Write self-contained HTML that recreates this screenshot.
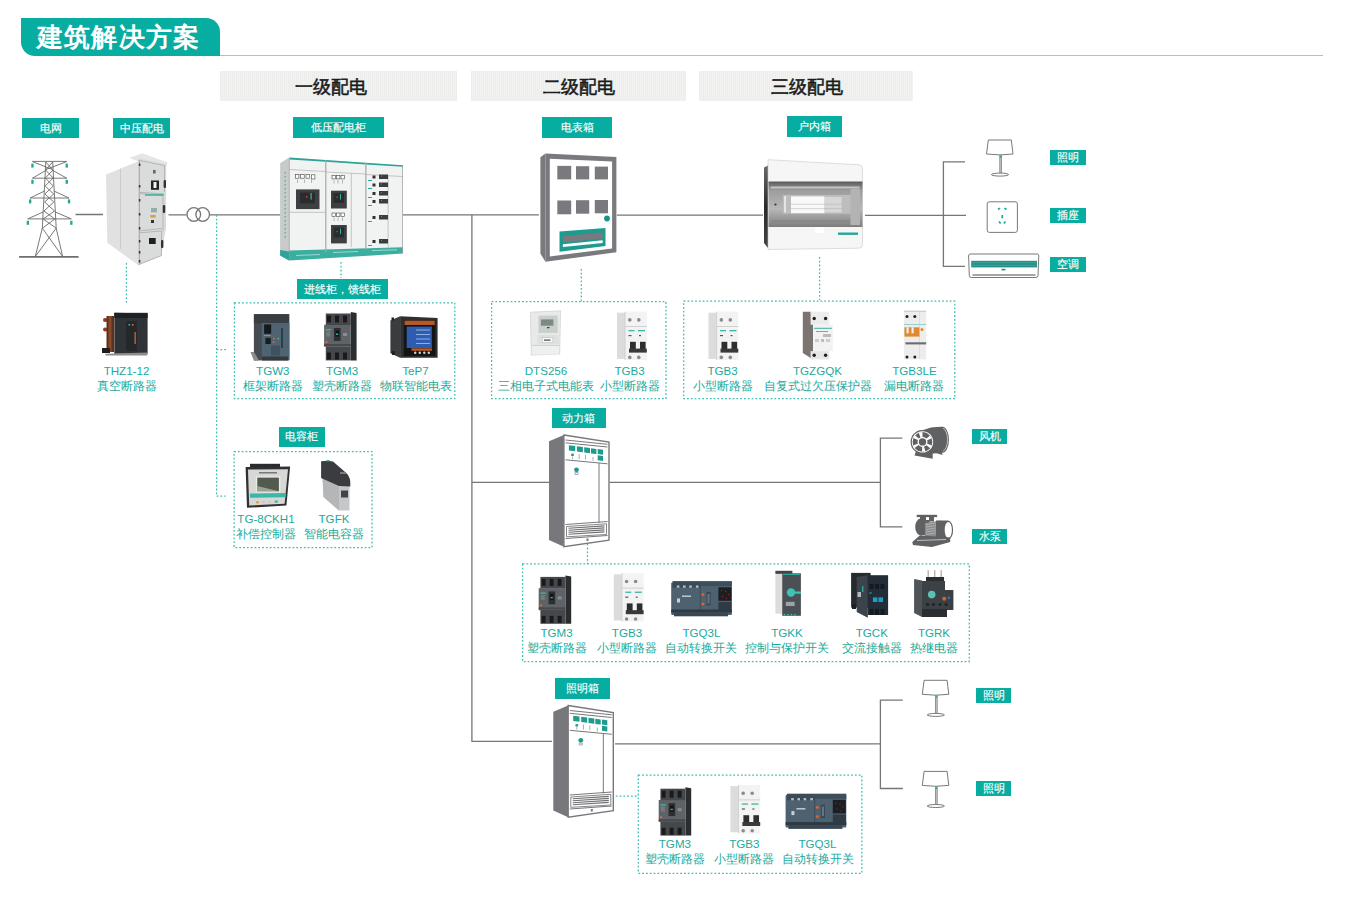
<!DOCTYPE html>
<html><head><meta charset="utf-8">
<style>
html,body{margin:0;padding:0;background:#fff;width:1350px;height:905px;overflow:hidden;position:relative;font-family:"Liberation Sans",sans-serif}
.a{position:absolute}
.tab{position:absolute;left:21px;top:18px;width:199px;height:37.5px;background:#07ada1;border-radius:0 14px 0 14px;color:#fff;font-weight:bold;font-size:25.5px;line-height:39px;box-sizing:border-box;padding-left:16px;letter-spacing:1.2px}
.bar{position:absolute;top:71px;height:30.4px;background:repeating-linear-gradient(90deg,#ededec 0 1px,#f2f2f0 1px 2px);color:#1b1b1b;font-size:17.5px;line-height:32px;font-weight:normal;-webkit-text-stroke:0.55px #1b1b1b}
.bar span{position:absolute;top:0;white-space:nowrap}
.lb{position:absolute;background:#07ada1;color:#fff;font-size:11px;text-align:center;white-space:nowrap;font-weight:normal;-webkit-text-stroke:0.15px #fff}
.pt{position:absolute;color:#1aaa9c;font-size:11.6px;line-height:15px;text-align:center;white-space:nowrap;width:120px}
svg{position:absolute;left:0;top:0}
</style></head><body>
<div class="tab">建筑解决方案</div>
<div class="a" style="left:220px;top:54.5px;width:1103px;height:1.3px;background:#86d5cd"></div>

<div class="bar" style="left:220px;width:237px"><span style="left:75px">一级配电</span></div>
<div class="bar" style="left:471px;width:214.5px"><span style="left:72px">二级配电</span></div>
<div class="bar" style="left:699px;width:214px"><span style="left:71.7px">三级配电</span></div>

<svg width="1350" height="905" viewBox="0 0 1350 905">
<g fill="none" stroke="#767676" stroke-width="1.3">
<path d="M75.5 214.5H103M168.5 214.8H186.7M209.8 214.8H280.5M402.9 214.9H538.9M616.8 215.1H763M865 215.3H966"/>
<circle cx="193.8" cy="214.5" r="6.8"/><circle cx="202.7" cy="214.5" r="6.8"/>
<path d="M965 161.8H943.4V266.4H965"/>
<path d="M471.9 214.7V741.4H552M472 482.4H549.2M609.7 482.4H880.4M902.3 438.2H880.4V526.8H902.3M615 743.9H880.4M902.8 700.2H880.4V788.5H902.8"/>
</g>
<g fill="none" stroke="#3dbdb1" stroke-width="1.25" stroke-dasharray="1.8 2">
<path d="M126.4 263V302.5M216.6 215V496M216.6 349.7H226M216.6 496H225.6M341 262V278M581.3 269V301.5M819.6 257V300M587.5 540V564M615.8 796H638.3"/>
<rect x="234.4" y="302.8" width="220.4" height="95.9"/>
<rect x="234.1" y="451.5" width="137.9" height="96"/>
<rect x="491.6" y="301.7" width="174.4" height="97"/>
<rect x="683.7" y="301.2" width="271.1" height="97.5"/>
<rect x="522.6" y="563.9" width="446.7" height="97.6"/>
<rect x="638.3" y="775.2" width="223.6" height="98.1"/>
</g>
<!-- tower -->
<g fill="none" stroke="#6a6a6a" stroke-width="0.9">
<path d="M19.1 256.8H78.6" stroke-width="1.7" stroke="#6e6e6e"/>
<path d="M45.8 162L42.3 228.1L35.3 256.5M52.7 162L56.2 228.1L62.6 256.5M42.3 228.1L62.6 256.5M56.2 228.1L35.3 256.5"/>
<path d="M45.8 162L52.9 170L45.4 178L53.3 186L44.9 194L53.8 202L44.0 211L54.8 219L42.7 228M52.7 162L45.6 170L53.2 178L45.2 186L53.7 194L44.6 202L54.5 211L43.2 219L56 228"/>
<path d="M32.4 161.4H66.7M32.4 161.6L52.5 169.5M66.7 161.6L46 169.5"/>
<path d="M32.4 178.2H66.7M45.6 170.5L32.4 178.2M53 170.5L66.7 178.2"/>
<path d="M30.1 198H69M44.6 191L30.1 198M53.9 191L69 198"/>
<path d="M27.8 218.9H71.3M43.4 211.9L27.8 218.9M55 211.9L71.3 218.9"/>
</g>
<g fill="#1fa89a">
<rect x="31.3" y="163.6" width="2.3" height="4"/><rect x="65.6" y="163.6" width="2.3" height="4"/>
<rect x="31.3" y="179.8" width="2.3" height="4"/><rect x="65.6" y="179.8" width="2.3" height="4"/>
<rect x="29" y="199.4" width="2.3" height="4"/><rect x="67.9" y="199.4" width="2.3" height="4"/>
<rect x="26.7" y="220.8" width="2.3" height="4"/><rect x="70.2" y="220.8" width="2.3" height="4"/>
</g>
<!-- meter box -->
<g>
<polygon points="540.4,157.3 545.4,153.5 545.4,261.7 540.4,253.6" fill="#7a797e"/>
<polygon points="545.4,153.5 616.4,156.9 616.4,252.3 545.4,261.7" fill="#7a797e"/>
<polygon points="549.8,158.8 612.1,161.6 612.1,248.5 549.8,256.4" fill="#fff"/>
<g fill="#7a797e">
<rect x="557.3" y="165.9" width="13.9" height="13.5"/><rect x="576" y="166.2" width="13.2" height="13.2"/><rect x="594.8" y="166.6" width="13.2" height="12.8"/>
<rect x="557.3" y="200.5" width="13.9" height="13.8"/><rect x="576" y="200.2" width="13.2" height="13.5"/><rect x="594.8" y="200" width="13.2" height="13.3"/>
</g>
<circle cx="607" cy="218.5" r="2.9" fill="#16958a"/>
<polygon points="559.5,231.6 605.5,227.9 605.5,246.1 559.5,251.7" fill="#1e9a8e"/>
<polygon points="562.9,236.2 602.7,232.4 602.7,238.6 562.9,242.3" fill="#7a797e"/>
<polygon points="562.9,244.2 602.7,240.3 602.7,243 562.9,247" fill="#fff"/>
</g>
<!-- power box cabinet -->
<g id="cab">
<polygon points="549,441.3 563.9,435 563.9,546.7 549,540.1" fill="#78777c"/>
<polygon points="563.9,435 609,442 609,540.1 563.9,546.7" fill="#fff" stroke="#78777c" stroke-width="1.4"/>
<path d="M565.5 440L607.5 444.3M565.5 442.8L607.5 447M565.5 459.8L607.5 463.8M599 463V523M565.5 524.5L607.5 521.5M565.5 538.5L607.5 535.5" stroke="#78777c" stroke-width="1" fill="none"/>
<polygon points="566.5,526.5 606.5,523.8 606.5,534.5 566.5,536.8" fill="none" stroke="#78777c" stroke-width="0.9"/>
<g fill="#1e9a8e">
<polygon points="568.9,445.3 575.2,446.1 575.2,451.3 568.9,450.6"/>
<polygon points="576.9,446.3 582.9,447.1 582.9,452.2 576.9,451.5"/>
<polygon points="584.2,447.3 590,448.1 590,453.2 584.2,452.5"/>
<polygon points="591,448.2 596.4,448.9 596.4,454 591,453.4"/>
<polygon points="597.7,449 603,449.7 603,454.8 597.7,454.1"/>
<polygon points="597.7,455.2 603,455.9 603,461 597.7,460.3"/>
<rect x="571.2" y="453.6" width="2.6" height="2.4"/>
<circle cx="576.5" cy="469.8" r="2.4"/>
</g>
<g fill="none" stroke="#8a898e" stroke-width="0.7">
<path d="M572.5 456.5V459M579.2 454V459M585.5 455V459.5M593 457V461M575 472.5h3v2h-3z"/>
<path d="M568.5 528.3L604.5 525.9M568.5 530.3L604.5 527.9M568.5 532.3L604.5 529.9M568.5 534.3L604.5 531.9" stroke-width="1.1" stroke="#6f6e73"/>
</g>
<rect x="586.5" y="538.5" width="2" height="2.5" fill="#78777c"/>
</g>
<use href="#cab" transform="translate(4.3 270.5)"/>
<!-- lamps -->
<g id="lamp" fill="none" stroke="#6a6a6a" stroke-width="0.9">
<path d="M988.3 140H1011.3L1013 154Q1000 155.8 986.5 154Z" fill="#fff"/>
<path d="M999.9 155V173.3M1001.3 155V173.3"/>
<ellipse cx="1000" cy="174.6" rx="8.6" ry="1.5" fill="#fff"/>
<circle cx="1000.6" cy="156.8" r="0.9" fill="#1aa99b" stroke="none"/>
</g>
<use href="#lamp" transform="translate(-64.2 540.3)"/>
<use href="#lamp" transform="translate(-64.2 631.4)"/>
<!-- socket -->
<rect x="987.2" y="201.8" width="30.2" height="30.6" rx="2.2" fill="#fff" stroke="#6a6a6a" stroke-width="0.9"/>
<g stroke="#1aa99b" stroke-width="1.7" fill="none">
<path d="M998 209.5l2 -1.4M1006.5 209.5l-2 -1.4M1002.3 215v3.2M999 221.5l1.6 2M1005.5 221.5l-1.6 2"/>
</g>
<!-- AC -->
<path d="M970.2 254H1037.2Q1038.8 254 1038.8 256L1038 275.5Q1037.8 277.5 1036 277.5H971.3Q969.5 277.5 969.3 275.5L968.6 256Q968.6 254 970.2 254Z" fill="#fff" stroke="#6a6a6a" stroke-width="0.9"/>
<rect x="971.2" y="260.8" width="65.8" height="6.6" fill="#238f86"/>
<path d="M971.2 262.7H1037M971.2 265.3H1037" stroke="#5db5ad" stroke-width="0.5"/>
<rect x="1001.5" y="268.8" width="4" height="1.6" fill="#238f86"/>
<path d="M972.5 275H1035.5" stroke="#888" stroke-width="1.3"/>

<!-- MV cabinet -->
<g>
<polygon points="106,174.5 138.4,161.3 138.4,265.3 107.3,242.8" fill="#e0e1e0"/>
<path d="M120.5 168.6V249" stroke="#c4c6c5" stroke-width="0.8"/>
<polygon points="129,158 142.4,153.3 167.6,162.6 166.3,166.6 138.4,161.3" fill="#e4e5e4"/>
<polygon points="138.4,158 166.3,164.6 166,228 161,256 138.4,265.3" fill="#dadcdb"/>
<path d="M140 160.5L164.5 165.5V192M140 192.4L164.5 194M140 193.7L163 195V230.8M140 230.8L162 228.5M140 232.8L161.5 231V255.5M140 264L161.5 255.5" stroke="#a9abaa" stroke-width="0.8" fill="none"/>
<path d="M139.2 160V265" stroke="#8d8f8e" stroke-width="0.8"/>
<rect x="151" y="180.5" width="8" height="9.3" fill="#222"/><rect x="153.5" y="182" width="3" height="6" fill="#f3f3f3"/>
<rect x="153" y="170" width="2.6" height="3.5" fill="#666"/>
<rect x="149" y="238" width="6.7" height="6" fill="#1f1f1f"/>
<rect x="163.6" y="180" width="2.4" height="8" rx="1" fill="#333"/>
<rect x="162.8" y="205" width="2.4" height="8" rx="1" fill="#333"/>
<rect x="161" y="240" width="2.4" height="8" rx="1" fill="#333"/>
<g fill="#2e3a44"><rect x="138.8" y="163.5" width="1.6" height="2.5"/><rect x="138.8" y="185" width="1.6" height="2.5"/><rect x="138.8" y="199" width="1.6" height="2.5"/><rect x="138.8" y="213" width="1.6" height="2.5"/><rect x="138.8" y="227" width="1.6" height="2.5"/><rect x="138.8" y="240" width="1.6" height="2.5"/><rect x="138.8" y="251" width="1.6" height="2.5"/><rect x="138.8" y="260" width="1.6" height="2.5"/></g>
<rect x="145" y="194.3" width="18.6" height="1.4" fill="#2bb0a2"/>
<rect x="151" y="208" width="6" height="4.3" fill="#8fb0aa"/>
<rect x="150.4" y="215" width="5.2" height="2.6" fill="#e39a3a"/>
<rect x="151" y="220" width="3" height="3" fill="#333"/>
</g>
<!-- LV cabinet -->
<g>
<polygon points="280.1,163.3 289,157.6 289,260.6 280.1,255.5" fill="#c9cbca"/>
<polygon points="280.1,250 289,251.5 289,260.6 280.1,255.5" fill="#2aa597"/>
<path d="M285.2 172V240" stroke="#2aa597" stroke-width="1" stroke-dasharray="1.5 2.5"/>
<polygon points="289,157.6 402.8,165.3 402.8,253.6 289,260.6" fill="#f1f2f2"/>
<polygon points="289,250.4 402.8,247.2 402.8,253.6 289,260.6" fill="#3aae9f"/>
<path d="M296 255.5L320 254.5M333 252.5L358 251.5M372 250.5L397 249.8" stroke="#b9e2dc" stroke-width="0.8"/>
<path d="M289.5 157.6L325.8 160.1V161.8L289.5 159.4Z M326 160.1L365.9 162.8V164.4L326 161.8Z M366 162.8L402.8 165.3V166.8L366 164.4Z" fill="#2aa597"/>
<path d="M325.8 160V252.2M365.9 162.8V249.5M351.3 173V247M388.1 175V247M289.5 212.3H325.5M289.5 169.5L325.5 171.5M326 172L365.9 174M366 174.5L402.5 176.5" stroke="#b8bab9" stroke-width="0.8" fill="none"/>
<path d="M289.3 158V260M325.8 160V252M365.9 163V249.5M402.5 165.5V253.5" stroke="#999" stroke-width="0.7" fill="none"/>
<rect x="296" y="189.4" width="23.5" height="19.7" fill="#3d3f42"/><rect x="300" y="192.5" width="15" height="11" fill="#2b2c2e"/>
<rect x="331" y="190.7" width="15.8" height="17.8" fill="#3d3f42"/><rect x="333.5" y="193" width="10.5" height="10" fill="#2b2c2e"/>
<rect x="331" y="225" width="15.8" height="18.4" fill="#3d3f42"/><rect x="333.5" y="227.5" width="10.5" height="10" fill="#2b2c2e"/>
<g fill="#fff" stroke="#444" stroke-width="0.6">
<rect x="295.3" y="174.6" width="3.6" height="3.6"/><rect x="300.6" y="174.6" width="3.6" height="3.6"/><rect x="306" y="174.6" width="3.6" height="3.6"/><rect x="311.3" y="174.8" width="3.6" height="4.2"/>
<rect x="332" y="175.5" width="3.4" height="3.4"/><rect x="336.5" y="175.5" width="3.4" height="3.4"/><rect x="341" y="175.5" width="3.4" height="3.4"/>
<rect x="332" y="213" width="3.4" height="3.4"/><rect x="336.5" y="213" width="3.4" height="3.4"/><rect x="341" y="213" width="3.4" height="3.4"/>
</g>
<g fill="#333"><rect x="372.5" y="175.5" width="3" height="3"/><rect x="372.5" y="183.5" width="3" height="3"/><rect x="372.5" y="192" width="3" height="3"/><rect x="372.5" y="200" width="3" height="3"/><rect x="372.5" y="216" width="3" height="3"/><rect x="372.5" y="240" width="3" height="3"/></g>
<g fill="#3b3e40"><rect x="379" y="174.5" width="9" height="4.5"/><rect x="379" y="182.5" width="9" height="4.5"/><rect x="379" y="191" width="9" height="4.5"/><rect x="379" y="199" width="9" height="4.5"/><rect x="379" y="215" width="9" height="4.5"/><rect x="379" y="239" width="9" height="4.5"/></g>
<g fill="#e0562a"><rect x="306" y="196" width="1.4" height="1.4"/><rect x="336.5" y="196.5" width="1.2" height="1.2"/><rect x="336.5" y="231" width="1.2" height="1.2"/><rect x="381" y="175.5" width="1" height="1"/><rect x="381" y="183.5" width="1" height="1"/><rect x="381" y="192" width="1" height="1"/><rect x="381" y="200" width="1" height="1"/><rect x="381" y="216" width="1" height="1"/><rect x="381" y="240" width="1" height="1"/></g>
<g fill="#36b5a6"><rect x="310.5" y="193" width="1.2" height="6.5"/><rect x="340" y="194" width="1" height="5.5"/><rect x="340" y="228.5" width="1" height="5.5"/></g>
<g stroke="#777" stroke-width="0.5"><path d="M297.5 179.5V183M304.5 179.5V183M311.5 179.5V183M334 180V183.5M338 180V183.5M342.5 180V183.5M334 217.5V221M338 217.5V221M342.5 217.5V221"/></g>
<g fill="#2aa597"><rect x="368" y="180" width="4" height="1"/><rect x="368" y="188" width="4" height="1"/><rect x="368" y="197" width="4" height="1"/><rect x="368" y="205" width="4" height="1"/><rect x="368" y="221" width="4" height="1"/><rect x="368" y="245" width="4" height="1"/></g>
</g>
<!-- household box -->
<defs>
<linearGradient id="hwin" x1="0" y1="0" x2="0" y2="1">
<stop offset="0" stop-color="#5a5a5a"/><stop offset="0.2" stop-color="#9d9d9d"/><stop offset="0.6" stop-color="#b8b8b8"/><stop offset="1" stop-color="#7d7d7d"/>
</linearGradient>
<linearGradient id="hside" x1="0" y1="0" x2="0" y2="1">
<stop offset="0" stop-color="#6a6a6a"/><stop offset="0.5" stop-color="#2a2a2a"/><stop offset="1" stop-color="#444"/>
</linearGradient>
</defs>
<g>
<path d="M764 167.5L768 165.5V248L764 243Z" fill="url(#hside)"/>
<path d="M768 159.7L859 164.8Q862.5 165.3 862.5 168.5V244.5Q862.5 248 859 248.2L768 249.5Z" fill="#f6f6f6" stroke="#c9c9c9" stroke-width="0.6"/>
<rect x="768.5" y="181.5" width="94" height="45.5" fill="url(#hwin)"/>
<rect x="770.5" y="186.5" width="89" height="2" fill="#c4c4c4"/>
<rect x="782.7" y="195" width="69.3" height="18.6" fill="#bdbdbd"/>
<rect x="791" y="196.4" width="33.6" height="16.8" fill="#f9f9f9"/>
<rect x="824.6" y="197" width="17" height="15.5" fill="#d7d7d7"/>
<path d="M791 204.3H842M791 208.6H842" stroke="#b0b0b0" stroke-width="0.5"/>
<rect x="784" y="196" width="2" height="16.5" fill="#e5e5e5"/>
<rect x="850.5" y="189" width="9.5" height="36" fill="#b3b3b3"/>
<circle cx="775.5" cy="204.5" r="1.1" fill="#333"/>
<path d="M772 221H850" stroke="#777" stroke-width="0.6"/>
<rect x="815" y="227" width="9" height="6" fill="#fff"/>
<rect x="838" y="232.5" width="20" height="2.4" fill="#2aa597"/>
</g>
<!-- THZ1-12 vacuum breaker -->
<g>
<rect x="114.3" y="312.8" width="33.3" height="41" fill="#2f3236"/>
<polygon points="114.3,312.8 147.7,313.5 147.7,318 114.3,318" fill="#1e2124"/>
<rect x="126" y="321" width="11" height="30" fill="#25282b"/>
<rect x="128.5" y="324" width="1.6" height="1.6" fill="#2bb6c8"/><rect x="132" y="324" width="1.6" height="1.6" fill="#e26b2e"/>
<rect x="134.5" y="332" width="1.3" height="12" fill="#c96a2a"/>
<rect x="103" y="318" width="4.5" height="4" rx="2" fill="#9a3b1f"/><rect x="103" y="327.5" width="4.5" height="4" rx="2" fill="#9a3b1f"/>
<rect x="106.5" y="316" width="7.5" height="36" fill="#5a3020"/>
<rect x="108.5" y="316" width="3" height="36" fill="#8a4a28"/>
<rect x="102" y="348" width="8" height="5" fill="#1d1d1d"/>
<polygon points="105,353.8 148,352.5 147,355.4 106,355.6" fill="#8c8f8d"/>
</g>
<!-- TG-8CKH1 -->
<g>
<polygon points="250,463.8 280,463.8 280,467 250,467" fill="#2a2b2c"/>
<polygon points="245.6,467 290.1,466.6 286.4,505.5 247,507.8" fill="#303133"/>
<polygon points="248,469.5 288,469.2 284.6,503.7 249.2,505.5" fill="#d7d8d6"/>
<rect x="255.8" y="476.3" width="24.6" height="16.2" fill="#e9eae8"/>
<rect x="257.3" y="477.6" width="21.6" height="13.6" fill="#515b4e"/>
<polygon points="257.3,486 278.9,491.2 257.3,491.2" fill="#9aa290"/>
<polygon points="249.8,493.5 285.9,493 285.5,497.3 250,497.8" fill="#3cb8a8"/>
<circle cx="257.5" cy="502.2" r="1.3" fill="#e99530"/><circle cx="263.5" cy="502" r="1.3" fill="#c9cac8"/><circle cx="269.5" cy="501.8" r="1.3" fill="#c9cac8"/><rect x="274.5" y="500.6" width="3.5" height="2.2" rx="1" fill="#3cb8a8"/>
<rect x="259" y="472" width="18" height="1.5" fill="#777"/>
</g>
<!-- TGFK -->
<g>
<polygon points="322.5,477 349.5,486 349.5,510.5 339,510.5 323.5,497" fill="#c6c7c8"/>
<polygon points="322.5,477 339,482 339,510.5 323.5,497" fill="#b5b6b7"/>
<path d="M321.1 461.3L328 460.7L333 461.5L344 471Q350.3 476 350.3 482V486.5L339 486L321.1 478Z" fill="#3a3c3f"/>
<rect x="326.5" y="460" width="3" height="1.5" fill="#2bb0a2"/>
<rect x="340" y="472" width="6" height="2" fill="#7a7b7d"/>
<rect x="341" y="490.5" width="7" height="7" fill="#444"/>
</g>

<defs>
<g id="mccb">
<!-- origin: TGM3 row A box 324.1-356.6 x 312-360.4 -->
<polygon points="350.8,312 356.6,313 356.6,360.4 350.8,360.4" fill="#2a2d30"/>
<rect x="324.1" y="324.8" width="26.7" height="22" fill="#5f6367"/>
<rect x="325.8" y="313.5" width="25" height="11.5" fill="#45484b"/>
<rect x="327" y="315.5" width="4" height="7" fill="#1a1a1c"/><rect x="335" y="315.5" width="4" height="7" fill="#1a1a1c"/><rect x="343" y="315.5" width="4" height="7" fill="#1a1a1c"/>
<rect x="325.8" y="346.5" width="25" height="13.9" fill="#45484b"/>
<rect x="327" y="352.5" width="4" height="7" fill="#1a1a1c"/><rect x="335" y="352.5" width="4" height="7" fill="#1a1a1c"/><rect x="343" y="352.5" width="4" height="7" fill="#1a1a1c"/>
<rect x="333.9" y="328" width="6.7" height="12.9" fill="#2c2e30"/>
<rect x="335.6" y="330.5" width="3.3" height="6" fill="#111"/>
<rect x="336" y="333.5" width="2.2" height="1.5" fill="#33b3a5"/>
<rect x="325.7" y="329" width="5.5" height="1.4" fill="#38b5a6"/>
<rect x="326.2" y="331.5" width="4" height="5" fill="#777a7d"/>
<rect x="325.6" y="341" width="1.8" height="2" fill="#e26b2e"/>
<rect x="343" y="333" width="4" height="3" fill="#8a8d90"/>
<rect x="324.1" y="344" width="26.7" height="2" fill="#47494c"/>
</g>
<g id="mcb">
<!-- origin: TGB3 row C 617-646.8 x 311.6-360.2 -->
<rect x="617" y="312.7" width="8.1" height="46.2" fill="#dcdcdc"/>
<rect x="625.1" y="311.6" width="21.7" height="48.4" fill="#f3f3f3"/>
<path d="M625.1 311.6V360" stroke="#c6c6c6" stroke-width="0.7"/>
<rect x="625.1" y="326" width="21.7" height="1" fill="#d0d0d0"/>
<circle cx="629.8" cy="319.9" r="1.8" fill="#8a8a8a"/><circle cx="638.8" cy="319.9" r="1.8" fill="#8a8a8a"/>
<rect x="628.5" y="330" width="6" height="1.3" fill="#3bb5a7"/><rect x="638" y="330" width="7" height="1.3" fill="#3bb5a7"/>
<rect x="628.5" y="335" width="3" height="1.2" fill="#555"/><rect x="639" y="335" width="2" height="1.2" fill="#555"/>
<rect x="630" y="341.8" width="5.8" height="8" fill="#2d2e30"/><rect x="640" y="341.8" width="5.6" height="8" fill="#2d2e30"/>
<rect x="629" y="348.6" width="17.8" height="4" fill="#38393b"/>
<circle cx="629.8" cy="357.4" r="1.8" fill="#8a8a8a"/><circle cx="638.8" cy="357.4" r="1.8" fill="#8a8a8a"/>
</g>
<g id="ats">
<!-- origin: TGQ3L row E 671.2-731.9 x 581.1-616.3 -->
<rect x="671.2" y="582.5" width="60.7" height="32.5" rx="1" fill="#4d6170"/>
<rect x="672.5" y="581.1" width="27.8" height="6.5" fill="#3b4b57"/>
<rect x="676.8" y="585.5" width="2.6" height="2.2" fill="#b9c1c6"/><rect x="683" y="585.5" width="2.6" height="2.2" fill="#b9c1c6"/><rect x="689.2" y="585.5" width="2.6" height="2.2" fill="#b9c1c6"/><rect x="695.9" y="585.5" width="2.6" height="2.2" fill="#b9c1c6"/>
<rect x="700.3" y="581.1" width="31.6" height="5" fill="#3e4e5a"/>
<path d="M700.3 581.5V616" stroke="#3a4853" stroke-width="0.8"/>
<rect x="718.4" y="587.3" width="13" height="13.5" fill="#1c1f22"/>
<g fill="#a03030"><rect x="721" y="590" width="1" height="1"/><rect x="725" y="591" width="1" height="1"/><rect x="728" y="594" width="1" height="1"/><rect x="722" y="596" width="1" height="1"/><rect x="726" y="598" width="1" height="1"/></g>
<rect x="718.4" y="602" width="13" height="8" fill="#2f3a42"/>
<circle cx="702.9" cy="594.6" r="1.5" fill="#e0622a"/><circle cx="702.9" cy="603.9" r="1.5" fill="#e0622a"/>
<rect x="706.5" y="592" width="4.1" height="13.4" fill="#3a4853"/><rect x="707.5" y="594" width="2" height="9.5" fill="#667884"/>
<rect x="682" y="595.5" width="9" height="1.4" fill="#c9d0d4"/><rect x="677" y="598.5" width="3" height="4" fill="#c9d0d4"/>
<rect x="671.2" y="609.5" width="60.7" height="3" fill="#2e3a43"/>
<rect x="674" y="612.5" width="54" height="3.8" fill="#3a4752"/>
</g>
<g id="lamp2"></g>
</defs>
<!-- TGW3 ACB -->
<g>
<rect x="253.9" y="314.2" width="35.5" height="46.2" fill="#464b51"/>
<rect x="253.9" y="314.2" width="35" height="9" fill="#393e44"/>
<rect x="261.8" y="323" width="27.6" height="36" fill="#4f6473"/>
<rect x="264.1" y="324.4" width="7.1" height="9.4" fill="#16191b"/>
<rect x="263.8" y="335" width="7" height="1" fill="#37b3a6"/>
<rect x="265.4" y="337.8" width="5.4" height="6.2" fill="#1a1d20"/>
<circle cx="274" cy="338.6" r="0.9" fill="#e26b2e"/><circle cx="278.3" cy="338.6" r="0.9" fill="#33c2a8"/><circle cx="273.6" cy="342.2" r="0.9" fill="#e26b2e"/>
<rect x="281" y="328" width="2" height="20" fill="#2f3d46"/>
<rect x="271" y="345.5" width="9" height="10" fill="#40525e"/>
<polygon points="250.5,352 254,352 259,360.5 254,360.8" fill="#8b8e86"/>
<rect x="262" y="356.5" width="26" height="4" fill="#34393e"/>
</g>
<use href="#mccb"/>
<use href="#mccb" transform="translate(214.6 263.4)"/>
<use href="#mccb" transform="translate(334.6 475.2)"/>
<!-- TeP7 -->
<g>
<polygon points="390.4,320.6 400.1,316.2 400.1,357.7 390.4,353.3" fill="#3b3c3e"/>
<rect x="391.5" y="317.5" width="2.5" height="3" fill="#222"/><rect x="392" y="351" width="2.8" height="4" fill="#222"/>
<polygon points="400.1,316.2 437.6,318.1 437.6,357.7 400.1,357.7" fill="#2e2f31"/>
<rect x="403.9" y="320" width="31.5" height="35.9" fill="#131416"/>
<rect x="404.5" y="320.6" width="30.2" height="4.4" fill="#b5592a"/>
<rect x="406.7" y="326.6" width="25.2" height="21.4" fill="#2d5cb0"/>
<path d="M416 330H430M416 334.5H430M416 339H430M416 343.5H430" stroke="#8fb2e6" stroke-width="1.1"/>
<rect x="411.4" y="348.3" width="20.5" height="2.5" fill="#b5592a"/>
<circle cx="415.2" cy="352.7" r="1.2" fill="#cfd6d2"/><circle cx="419.8" cy="352.7" r="1.2" fill="#cfd6d2"/><circle cx="424.3" cy="352.7" r="1.2" fill="#cfd6d2"/><circle cx="428.8" cy="352.7" r="1.2" fill="#cfd6d2"/>
</g>
<!-- DTS256 -->
<g>
<polygon points="530.3,312.2 560.6,310.8 559.7,354.1 531.3,355.1" fill="#e8e9e9" stroke="#cfd0d0" stroke-width="0.7"/>
<rect x="538.5" y="315.6" width="19.2" height="17.3" fill="#c9cfcb"/>
<rect x="540.9" y="319.4" width="12.5" height="6.3" fill="#7c8a83"/>
<rect x="547" y="327.2" width="2.5" height="1" fill="#222"/>
<rect x="537.5" y="335" width="21" height="9" fill="#dfe0e0"/>
<rect x="542.3" y="337.8" width="10.6" height="4.8" fill="#fafafa" stroke="#aaa" stroke-width="0.4"/>
<rect x="544" y="339.5" width="6.5" height="1.2" fill="#444"/>
<path d="M531.5 345.4H559.5" stroke="#c4c5c5" stroke-width="0.7"/>
<rect x="532" y="346" width="27" height="8.5" fill="#eeefef"/>
</g>
<use href="#mcb"/>
<use href="#mcb" transform="translate(91.5 0)"/>
<use href="#mcb" transform="translate(-3.2 261.6)"/>
<use href="#mcb" transform="translate(113.4 473.4)"/>
<!-- TGZGQK -->
<g>
<polygon points="802.8,311.7 810.6,311.7 813.1,324.7 813.1,359.4 802.8,353" fill="#7b7471"/>
<rect x="810.6" y="311.7" width="18.6" height="13" fill="#ececec"/>
<circle cx="814.2" cy="318.5" r="1.7" fill="#1e1e1e"/><circle cx="825.6" cy="318.5" r="1.7" fill="#1e1e1e"/>
<rect x="813.1" y="324.7" width="19.8" height="26.4" fill="#f2f2f2"/>
<rect x="814" y="327.8" width="18" height="1" fill="#3bb5a7"/>
<rect x="816" y="331" width="12" height="1" fill="#999"/><rect x="823" y="334" width="8" height="3" fill="#bbb"/>
<rect x="815" y="339" width="4" height="3" fill="#ccc"/><rect x="821" y="339" width="3" height="3" fill="#bbb"/><rect x="826" y="339" width="4" height="3" fill="#ccc"/>
<rect x="810.6" y="351.1" width="18.6" height="8.3" fill="#e6e6e6"/>
<circle cx="814.2" cy="355.3" r="1.7" fill="#1e1e1e"/><circle cx="825.6" cy="355.3" r="1.7" fill="#1e1e1e"/>
</g>
<!-- TGB3LE -->
<g>
<rect x="903.9" y="310.7" width="22.3" height="48.7" fill="#ededed"/>
<rect x="903.9" y="310.7" width="22.3" height="1.3" fill="#cfcfcf"/>
<path d="M919.5 311V359" stroke="#d4d4d4" stroke-width="0.6"/>
<circle cx="907" cy="316.4" r="1.5" fill="#1e1e1e"/><circle cx="914.8" cy="316.4" r="1.5" fill="#1e1e1e"/>
<rect x="903.9" y="324" width="22.3" height="0.8" fill="#7fc9c0"/>
<path d="M904.4 327.3H919.4V336.6H904.4Z" fill="#e08a2e"/>
<rect x="906.5" y="327.3" width="2.2" height="6" fill="#f0f0f0"/><rect x="911.5" y="327.3" width="2.2" height="6" fill="#f0f0f0"/>
<circle cx="922" cy="329.5" r="1.5" fill="#e08a2e"/>
<rect x="905.4" y="342.3" width="20.8" height="2.1" fill="#6c6c6c"/>
<circle cx="907" cy="356.9" r="1.5" fill="#1e1e1e"/><circle cx="914.8" cy="356.9" r="1.5" fill="#1e1e1e"/>
</g>
<use href="#ats"/>
<use href="#ats" transform="translate(114.4 212.6)"/>
<!-- TGKK -->
<g>
<rect x="775.4" y="571.2" width="6.8" height="42.5" fill="#dcdcdc"/>
<rect x="775.4" y="570.8" width="17" height="3" fill="#3f4448"/>
<rect x="782.2" y="573.3" width="18.7" height="42.5" fill="#4a5055"/>
<rect x="783" y="574" width="17" height="1" fill="#2aa597"/>
<circle cx="791" cy="592.5" r="4.2" fill="#3ec3b0"/>
<rect x="791" y="591.5" width="10" height="2.2" fill="#3ec3b0"/>
<rect x="785.8" y="601.8" width="8.8" height="4.2" fill="#9aa3a8"/>
<g fill="#3ec3b0"><circle cx="784.5" cy="614.5" r="0.8"/><circle cx="788" cy="614.5" r="0.8"/><circle cx="791.5" cy="614.5" r="0.8"/><circle cx="795" cy="614.5" r="0.8"/></g>
</g>
<!-- TGCK -->
<g>
<rect x="851.1" y="572.9" width="19.5" height="34.7" fill="#262b31"/>
<rect x="852" y="604" width="4" height="5" fill="#1c1f24"/>
<polygon points="856.7,577 867.8,575.2 867.8,617.8 856.7,612" fill="#3c434a"/>
<rect x="857.5" y="592" width="3.5" height="5" fill="#b8b8b8"/>
<rect x="862" y="586" width="1.4" height="6" fill="#2aa597"/>
<rect x="867.8" y="575.2" width="20.3" height="39.8" fill="#222d38"/>
<g fill="#141a20"><rect x="869.5" y="584" width="4" height="5"/><rect x="875" y="584" width="4" height="5"/><rect x="880.5" y="584" width="4" height="5"/><rect x="869.5" y="609" width="4" height="6"/><rect x="875" y="609" width="4" height="6"/><rect x="880.5" y="609" width="4" height="6"/></g>
<rect x="872.9" y="597.4" width="4.5" height="4.6" fill="#1a9fc8"/><rect x="878.5" y="597.4" width="4.5" height="4.6" fill="#1a9fc8"/>
<rect x="869" y="592.5" width="3" height="1" fill="#1a9fc8"/>
</g>
<!-- TGRK -->
<g>
<rect x="927.5" y="570.1" width="1.4" height="13" fill="#b7b2ac"/><rect x="934" y="570.1" width="1.4" height="13" fill="#b7b2ac"/><rect x="940.5" y="570.1" width="1.4" height="13" fill="#b7b2ac"/>
<rect x="926" y="577" width="18" height="6" fill="#2a2e33"/>
<polygon points="914.1,579 922,580.5 922,617 914.1,613" fill="#4f5459"/>
<rect x="922" y="581" width="23" height="31" fill="#3c4146"/>
<rect x="945" y="590" width="8.4" height="20" fill="#3a3f44"/>
<circle cx="931.7" cy="594.6" r="3.8" fill="#5fbfb5"/>
<circle cx="944.2" cy="598.8" r="2" fill="#d9622a"/>
<circle cx="948.8" cy="597.9" r="1.4" fill="#2d6fc4"/>
<g fill="#20242a"><circle cx="927.5" cy="604.5" r="1.6"/><circle cx="933.5" cy="604.5" r="1.6"/><circle cx="940" cy="604.5" r="1.6"/><circle cx="946" cy="604.5" r="1.6"/></g>
<rect x="922" y="609" width="25" height="8" fill="#2a2e33"/>
</g>
<!-- fan -->
<g>
<path d="M922.5 430.2L931 427.6Q937 426.6 942.5 426.7A6.4 13 0 0 1 942.5 452.7L925 454.2Z" fill="#606163"/>
<path d="M943 428.2A5.2 11.6 0 0 1 943 451.2" fill="none" stroke="#fff" stroke-width="0.6"/>
<polygon points="916,451 932.7,453 932.7,458.7 914.5,455.5" fill="#606163"/>
<polygon points="936,450 941,449 942.5,455 936,453" fill="#606163"/>
<circle cx="922.5" cy="441.9" r="11.9" fill="#606163"/>
<circle cx="922.5" cy="441.9" r="10.7" fill="#fff"/>
<circle cx="922.5" cy="441.9" r="9.9" fill="#606163"/>
<g fill="#fff">
<polygon points="922.5,441.9 918.5,432.6 922.5,432"/><polygon points="922.5,441.9 930,435.5 931.5,438.5"/><polygon points="922.5,441.9 932,445.5 930.5,448.5"/><polygon points="922.5,441.9 925.5,451.5 922,451.8"/><polygon points="922.5,441.9 914,448.5 912.8,445.5"/><polygon points="922.5,441.9 913.2,438 914.8,435"/>
</g>
<circle cx="922.5" cy="441.9" r="5" fill="#fff"/><circle cx="922.5" cy="441.9" r="3.7" fill="#606163"/>
</g>
<!-- pump -->
<g fill="#606163">
<rect x="916.7" y="514.8" width="20.4" height="2.3"/>
<rect x="920" y="516.5" width="6" height="5"/><rect x="929" y="516.5" width="5" height="5"/>
<ellipse cx="920.8" cy="527" rx="5.6" ry="8.5"/>
<rect x="921.5" y="520" width="8" height="15"/>
<path d="M925 523L941 520.5V539.6L925 536Z" fill="#8b8c8e"/>
<path d="M926 524.5l13 -2M926 527l13 -2M926 529.5l13 -2M926 532l13 -2M926 534.5l13 -2" stroke="#d0d0d0" stroke-width="0.5"/>
<path d="M936 520.5H947.5V539.6H936Z"/>
<ellipse cx="948" cy="530" rx="5.1" ry="9.5"/>
<ellipse cx="948.3" cy="530" rx="3.6" ry="8" fill="#fff"/>
<polygon points="912.3,542 920,535.2 950.2,537.5 950.2,542 932,546.9 913,545"/>
<path d="M917 540.5L946 539.5" stroke="#fff" stroke-width="0.6"/>
</g>

<!--ICONS-->
</svg>

<div class="lb" style="left:22px;top:117.6px;width:57px;height:20.4px;line-height:20.4px">电网</div>
<div class="lb" style="left:113px;top:117.6px;width:57px;height:20.4px;line-height:20.4px">中压配电</div>
<div class="lb" style="left:293px;top:117.3px;width:91.4px;height:20.5px;line-height:20.5px">低压配电柜</div>
<div class="lb" style="left:542.4px;top:117.3px;width:69.6px;height:20.5px;line-height:20.5px">电表箱</div>
<div class="lb" style="left:787px;top:116px;width:54.6px;height:20.7px;line-height:20.7px">户内箱</div>
<div class="lb" style="left:296.5px;top:278.6px;width:91.5px;height:20.1px;line-height:20.1px">进线柜，馈线柜</div>
<div class="lb" style="left:278.8px;top:427px;width:45.9px;height:19.7px;line-height:19.7px">电容柜</div>
<div class="lb" style="left:551.5px;top:407.9px;width:54.4px;height:20.6px;line-height:20.6px">动力箱</div>
<div class="lb" style="left:555.2px;top:678.1px;width:54.6px;height:20.6px;line-height:20.6px">照明箱</div>
<div class="lb" style="left:1050px;top:150px;width:35.5px;height:14.8px;line-height:14.8px;font-size:10.6px">照明</div>
<div class="lb" style="left:1050px;top:208.3px;width:35.5px;height:14.8px;line-height:14.8px;font-size:10.6px">插座</div>
<div class="lb" style="left:1050px;top:256.9px;width:35.5px;height:15px;line-height:15px;font-size:10.6px">空调</div>
<div class="lb" style="left:972.2px;top:429px;width:35.3px;height:15px;line-height:15px;font-size:10.6px">风机</div>
<div class="lb" style="left:972.2px;top:529px;width:35.3px;height:14.9px;line-height:14.9px;font-size:10.6px">水泵</div>
<div class="lb" style="left:976px;top:688.2px;width:35px;height:15.3px;line-height:15.3px;font-size:10.6px">照明</div>
<div class="lb" style="left:976px;top:781.4px;width:35px;height:15px;line-height:15px;font-size:10.6px">照明</div>

<!-- product texts: left = center-60 ; top = captop - ~3 -->
<div class="pt" style="left:66.5px;top:363px">THZ1-12<br>真空断路器</div>
<div class="pt" style="left:212.8px;top:363px">TGW3<br>框架断路器</div>
<div class="pt" style="left:282px;top:363px">TGM3<br>塑壳断路器</div>
<div class="pt" style="left:355.5px;top:363px">TeP7<br>物联智能电表</div>
<div class="pt" style="left:206px;top:511.3px">TG-8CKH1<br>补偿控制器</div>
<div class="pt" style="left:274px;top:511.3px">TGFK<br>智能电容器</div>
<div class="pt" style="left:486px;top:363px">DTS256<br>三相电子式电能表</div>
<div class="pt" style="left:569.6px;top:363px">TGB3<br>小型断路器</div>
<div class="pt" style="left:662.6px;top:363px">TGB3<br>小型断路器</div>
<div class="pt" style="left:757.5px;top:363px">TGZGQK<br>自复式过欠压保护器</div>
<div class="pt" style="left:854.4px;top:363px">TGB3LE<br>漏电断路器</div>
<div class="pt" style="left:496.5px;top:625.2px">TGM3<br>塑壳断路器</div>
<div class="pt" style="left:567px;top:625.2px">TGB3<br>小型断路器</div>
<div class="pt" style="left:641.4px;top:625.2px">TGQ3L<br>自动转换开关</div>
<div class="pt" style="left:727px;top:625.2px">TGKK<br>控制与保护开关</div>
<div class="pt" style="left:811.8px;top:625.2px">TGCK<br>交流接触器</div>
<div class="pt" style="left:874px;top:625.2px">TGRK<br>热继电器</div>
<div class="pt" style="left:614.9px;top:836.4px">TGM3<br>塑壳断路器</div>
<div class="pt" style="left:684.4px;top:836.4px">TGB3<br>小型断路器</div>
<div class="pt" style="left:757.5px;top:836.4px">TGQ3L<br>自动转换开关</div>
</body></html>
